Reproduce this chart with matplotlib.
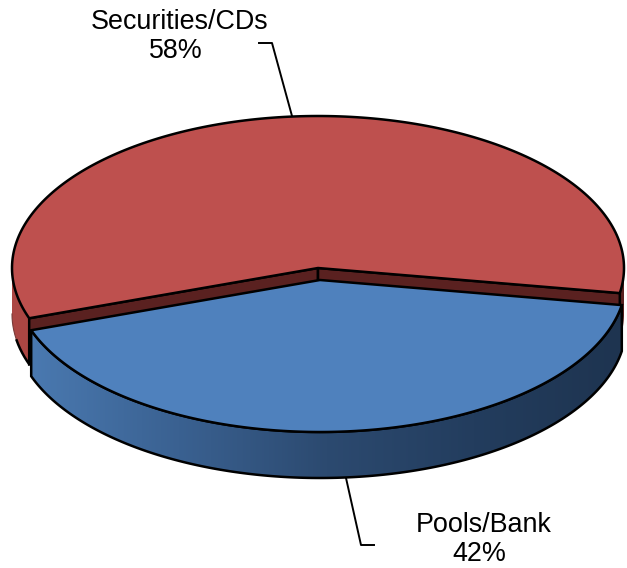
import numpy as np
import matplotlib.pyplot as plt
from matplotlib.colors import LinearSegmentedColormap
from matplotlib.patches import Polygon

plt.rcParams['font.family'] = ['Liberation Sans', 'DejaVu Sans']

labels = ["Pools/Bank", "Securities/CDs"]
shares = [42, 58]

# ellipse geometry, all in image pixels
start_angle = -9.5
rx, ry = 306, 152
depth = 46
blue_c = (320, 280)
red_c = (318, 268)
edge_w = 1.8


def arc(center, a0, a1, dy=0):
    t = np.radians(np.linspace(a0, a1, 200))
    return np.column_stack([center[0] + rx * np.cos(t), center[1] - ry * np.sin(t) + dy])


def side_wall(center, a0, a1):
    return np.vstack([arc(center, a0, a1), arc(center, a1, a0, depth)])


fig = plt.figure(figsize=(6.27, 5.68), dpi=100)
ax = fig.add_axes([0, 0, 1, 1])
ax.axis('off')

# slices run clockwise from start_angle
blue_end = start_angle - 360 * shares[0] / sum(shares)
red_end = blue_end - 360 * shares[1] / sum(shares)

# red outer wall, only the two ends show and the outline is faint at the far left
ax.add_patch(Polygon(side_wall(red_c, -180, blue_end), fc='#ab4643', ec='none', zorder=1))
ax.plot(*arc(red_c, -180, -170, depth).T, color='#7a3a38', lw=0.8, zorder=1)
ax.plot(*arc(red_c, -170, blue_end, depth).T, color='black', lw=edge_w, zorder=1)
ax.add_patch(Polygon(side_wall(red_c, start_angle, 0), fc='#5a2120', ec='none', zorder=1))

# red cut faces
rc = np.array(red_c, dtype=float)
for a in [blue_end, start_angle]:
    p = arc(red_c, a, a)[0]
    face = [rc, p, p + [0, depth], rc + [0, depth]]
    ax.add_patch(Polygon(face, fc='#5a2120', ec='black', lw=edge_w, zorder=2))

# red top
red_top = np.vstack([[red_c], arc(red_c, blue_end, red_end)])
ax.add_patch(Polygon(red_top, fc='#be504e', ec='black', lw=edge_w, zorder=3))

# blue wall with a horizontal gradient
wall = Polygon(side_wall(blue_c, blue_end, start_angle), fc='none', ec='none', zorder=4)
ax.add_patch(wall)
blue_cmap = LinearSegmentedColormap.from_list(
    'wall', ['#4a79b0', '#3a6191', '#2c4a70', '#233d5e', '#1e3450'])
im = ax.imshow(np.linspace(0, 1, 256).reshape(1, -1), cmap=blue_cmap, extent=[31, 622, 500, 290],
               aspect='auto', zorder=4)
im.set_clip_path(wall)
ax.add_patch(Polygon(side_wall(blue_c, blue_end, start_angle), fc='none', ec='black', lw=edge_w, zorder=5))

# blue top
blue_top = np.vstack([[blue_c], arc(blue_c, start_angle, blue_end)])
ax.add_patch(Polygon(blue_top, fc='#4f81bd', ec='black', lw=edge_w, zorder=6))

# leader lines
ax.plot([259, 272, 292], [43, 43, 116], color='black', lw=1.4, zorder=2)
ax.plot([346, 361, 374], [478, 545, 545], color='black', lw=1.4, zorder=2)

ax.text(180, 22, labels[1], fontsize=19.4, ha='center', va='center')
ax.text(176, 51, f"{shares[1]}%", fontsize=19.4, ha='center', va='center')
ax.text(484, 525, labels[0], fontsize=19.4, ha='center', va='center')
ax.text(479, 554, f"{shares[0]}%", fontsize=19.4, ha='center', va='center')

ax.set_xlim(0, 627)
ax.set_ylim(568, 0)
fig.savefig('out.png', dpi=100)
